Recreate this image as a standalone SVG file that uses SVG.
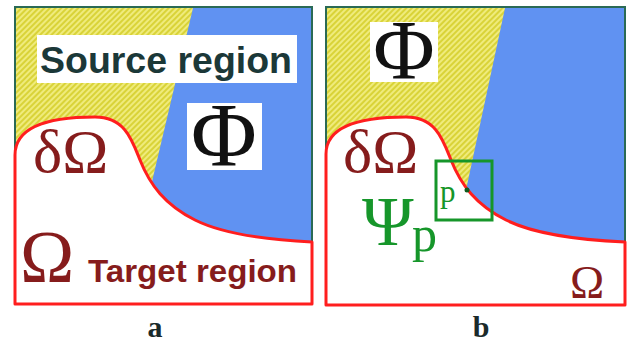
<svg xmlns="http://www.w3.org/2000/svg" width="629" height="345" viewBox="0 0 629 345">
  <defs>
    <pattern id="hatch" patternUnits="userSpaceOnUse" width="4" height="4" patternTransform="rotate(45)">
      <rect width="4" height="4" fill="#efeb7c"/>
      <rect width="2" height="4" fill="#d9d338"/>
    </pattern>
  </defs>
  <style>
    .frame { fill: #6092f2; stroke: #2a6a55; stroke-width: 2; }
    .yellow { fill: url(#hatch); }
    .target { fill: #ffffff; stroke: #ff1e1e; stroke-width: 3; stroke-linejoin: round; }
    .box { fill: #ffffff; }
    .sans { font-family: "Liberation Sans", Arial, sans-serif; font-weight: bold; }
    .serif { font-family: "Liberation Serif", "Times New Roman", serif; }
    .dred { fill: #861c1c; }
    .green { fill: #16962a; }
    .phi { fill: #111111; }
  </style>
  <rect width="629" height="345" fill="#ffffff"/>

  <g id="panel-a">
    <rect class="frame" x="15" y="7" width="297" height="240"/>
    <polygon class="yellow" points="16,8 193,8 150,190 16,190"/>
    <path class="target" d="M15,155 C15,128 45,117 95,117 C125,117 132,140 140,160 C150,185 165,205 195,220 C225,235 270,240 312,242 L312,304 L15,304 Z"/>
    <g id="label-source">
      <rect class="box" x="37" y="35" width="260" height="48"/>
      <text class="sans" x="40" y="73" font-size="37" fill="#1b3838" textLength="252" lengthAdjust="spacingAndGlyphs">Source region</text>
    </g>
    <g id="phi-a">
      <rect class="box" x="187" y="103" width="75" height="67"/>
      <text class="serif phi" x="224" y="166" font-size="90" text-anchor="middle">Φ</text>
    </g>
    <text id="boundary-a" class="serif dred" x="33" y="172" font-size="62">δΩ</text>
    <text id="omega-a" class="serif dred" x="20" y="282" font-size="73">Ω</text>
    <text id="label-target" class="sans dred" x="88" y="282" font-size="32" textLength="209" lengthAdjust="spacingAndGlyphs">Target region</text>
  </g>

  <g id="panel-b">
    <rect class="frame" x="326" y="7" width="299" height="240"/>
    <polygon class="yellow" points="327,8 505,8 466,190 327,190"/>
    <path class="target" d="M326,154 C326,128 356,117 406,117 C436,117 443,140 451,160 C461,185 476,205 506,220 C536,235 581,240 625,242 L625,305 L326,305 Z"/>
    <g id="phi-b">
      <rect class="box" x="370" y="22" width="68" height="60"/>
      <text class="serif phi" x="404" y="79" font-size="84" text-anchor="middle">Φ</text>
    </g>
    <text id="boundary-b" class="serif dred" x="343" y="172" font-size="62">δΩ</text>
    <g id="patch">
      <rect x="436" y="161" width="56" height="59" fill="none" stroke="#16962a" stroke-width="3"/>
      <circle cx="467" cy="190" r="2.5" fill="#0f5a1c"/>
      <text class="serif green" x="440" y="202" font-size="31">p</text>
    </g>
    <text id="psi-p" class="serif green" x="362" y="245" font-size="70">Ψ<tspan x="412" y="251" font-size="50">p</tspan></text>
    <text id="omega-b" class="serif dred" x="570" y="298" font-size="46">Ω</text>
  </g>

  <text id="caption-a" class="serif" x="155" y="337" font-size="30" font-weight="bold" text-anchor="middle" fill="#1a2a2a">a</text>
  <text id="caption-b" class="serif" x="481" y="337" font-size="30" font-weight="bold" text-anchor="middle" fill="#1a2a2a">b</text>
</svg>
